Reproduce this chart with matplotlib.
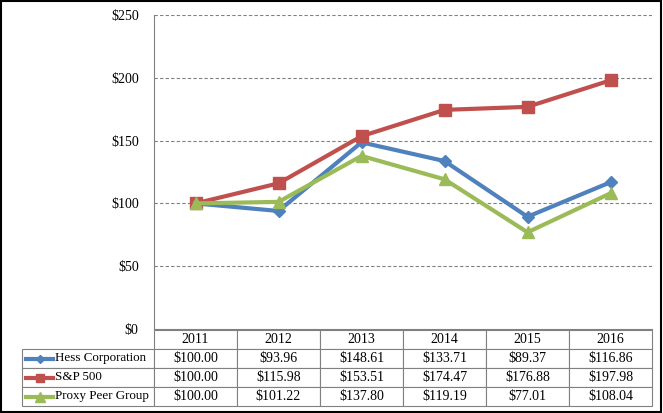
import matplotlib.pyplot as plt
from matplotlib.lines import Line2D
from matplotlib.patches import Rectangle

plt.rcParams['font.family'] = ['Liberation Serif', 'DejaVu Serif']

years = ['2011', '2012', '2013', '2014', '2015', '2016']
hess = [100.00, 93.96, 148.61, 133.71, 89.37, 116.86]
sp500 = [100.00, 115.98, 153.51, 174.47, 176.88, 197.98]
peer = [100.00, 101.22, 137.80, 119.19, 77.01, 108.04]

names = ['Hess Corporation', 'S&P 500', 'Proxy Peer Group']
series = [hess, sp500, peer]
colors = ['#4F81BD', '#C0504D', '#9BBB59']
markers = ['D', 's', '^']
msizes = [6, 8, 9]

W, H = 663, 413
fig = plt.figure(figsize=(W / 100, H / 100), dpi=100)

def fx(px):
    return px / W

def fy(py):
    return 1 - py / H

left, right, top, bottom = 154, 652, 15, 329
ax = fig.add_axes([fx(left), fy(bottom), fx(right - left), fy(top) - fy(bottom)])
x = list(range(len(years)))
for vals, c, m, ms in zip(series, colors, markers, msizes):
    ax.plot(x, vals, color=c, lw=3, marker=m, ms=ms, zorder=3)

ax.set_xlim(-0.5, len(years) - 0.5)
ax.set_ylim(0, 250)
ax.set_yticks([0, 50, 100, 150, 200, 250])
ax.set_yticklabels(['$' + str(v) for v in [0, 50, 100, 150, 200, 250]], fontsize=10)
ax.set_xticks([])
ax.tick_params(axis='y', length=0, pad=11)
for v in [50, 100, 150, 200, 250]:
    ax.axhline(v, color='#808080', lw=0.8, ls=(0, (3, 2)), zorder=1)
for s in ['top', 'right']:
    ax.spines[s].set_visible(False)
ax.spines['left'].set_color('#808080')
ax.spines['bottom'].set_color('#808080')

# data table
cell_text = [[''] + years]
for n, vals in zip(names, series):
    cell_text.append([n] + ['${:.2f}'.format(v) for v in vals])
tab_left, tab_top, tab_bottom = 22, 330, 406
tb = fig.add_axes([0, 0, 1, 1], facecolor='none')
tb.set_axis_off()
table = tb.table(cellText=cell_text,
                 colWidths=[left - tab_left] + [(right - left) / 6] * 6,
                 cellLoc='center',
                 bbox=[fx(tab_left), fy(tab_bottom), fx(right - tab_left), fy(tab_top) - fy(tab_bottom)])
table.auto_set_font_size(False)
for (r, c), cell in table.get_celld().items():
    cell.set_edgecolor('#808080')
    cell.set_linewidth(0.8)
    cell.get_text().set_fontsize(10)
    if r == 0 and c == 0:
        cell.visible_edges = ''
    if c == 0 and r > 0:
        cell.get_text().set_ha('left')
        cell.get_text().set_fontsize(9.4)
        cell.PAD = 0.25

# legend keys in the table
row_h = (tab_bottom - tab_top) / 4
for i, (c, m, ms) in enumerate(zip(colors, markers, msizes)):
    yy = tab_top + row_h * (i + 1.5)
    tb.add_line(Line2D([fx(26), fx(53)], [fy(yy), fy(yy)], color=c, lw=3,
                       transform=fig.transFigure))
    tb.add_line(Line2D([fx(39.5)], [fy(yy)], color=c, marker=m, ms=ms - 2,
                       transform=fig.transFigure))

fig.add_artist(Rectangle((0.002, 0.003), 0.995, 0.994, fill=False, edgecolor='black',
                         lw=1.5, transform=fig.transFigure))

fig.savefig('out.png', dpi=100)
